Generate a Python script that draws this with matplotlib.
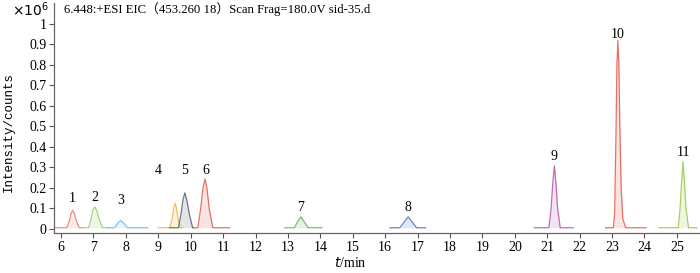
import matplotlib
matplotlib.use("Agg")
import matplotlib.pyplot as plt

# peaks (time in min, intensity in 1e6 counts)
peak_labels = ["1", "2", "3", "4", "5", "6", "7", "8", "9", "10", "11"]
peak_colors = ["#e47a72", "#9ccc6a", "#72b6e6", "#f2b53a", "#56626a", "#e4584a",
               "#66b44a", "#4a74c2", "#b455a6", "#e4584a", "#98c84a"]
peak_times = [
    [5.82, 6.18, 6.26, 6.31, 6.36, 6.41, 6.47, 6.56, 6.70],
    [6.75, 6.85, 6.93, 6.98, 7.04, 7.10, 7.17, 7.28, 7.45],
    [7.45, 7.65, 7.75, 7.84, 7.93, 8.05, 8.68],
    [9.00, 9.36, 9.43, 9.48, 9.52, 9.56, 9.61, 9.68, 9.75],
    [9.35, 9.62, 9.70, 9.76, 9.82, 9.88, 9.96, 10.06, 10.10],
    [10.10, 10.22, 10.31, 10.38, 10.44, 10.50, 10.57, 10.68, 11.20],
    [12.90, 13.20, 13.30, 13.40, 13.50, 13.62, 14.05],
    [16.15, 16.45, 16.71, 16.97, 17.25],
    [20.60, 21.05, 21.12, 21.17, 21.22, 21.27, 21.32, 21.40, 21.80],
    [22.80, 23.04, 23.08, 23.12, 23.15, 23.18, 23.21, 23.24, 23.28, 23.33, 23.42, 24.05],
    [24.45, 25.04, 25.10, 25.15, 25.19, 25.23, 25.28, 25.36, 25.62],
]
peak_heights = [
    [0.005, 0.005, 0.04, 0.075, 0.09, 0.075, 0.04, 0.005, 0.005],
    [0.005, 0.005, 0.05, 0.09, 0.107, 0.09, 0.05, 0.005, 0.005],
    [0.005, 0.005, 0.028, 0.04, 0.028, 0.005, 0.005],
    [0.005, 0.005, 0.05, 0.10, 0.125, 0.10, 0.05, 0.005, 0.005],
    [0.005, 0.005, 0.07, 0.14, 0.175, 0.14, 0.07, 0.005, 0.005],
    [0.005, 0.005, 0.10, 0.20, 0.243, 0.20, 0.10, 0.005, 0.005],
    [0.005, 0.005, 0.035, 0.058, 0.035, 0.005, 0.005],
    [0.005, 0.005, 0.058, 0.005, 0.005],
    [0.005, 0.005, 0.10, 0.22, 0.306, 0.22, 0.10, 0.005, 0.005],
    [0.005, 0.005, 0.08, 0.45, 0.80, 0.917, 0.80, 0.50, 0.20, 0.05, 0.005, 0.005],
    [0.005, 0.005, 0.10, 0.24, 0.327, 0.24, 0.10, 0.005, 0.005],
]
label_x = [6.34, 7.04, 7.85, 9.0, 9.8, 10.46, 13.4, 16.71, 21.2, 23.18, 25.2]
label_y = [0.146, 0.15, 0.136, 0.286, 0.286, 0.286, 0.102, 0.102, 0.35, 0.947, 0.374]

x_ticks = list(range(6, 26))
y_ticks = [0, 0.1, 0.2, 0.3, 0.4, 0.5, 0.6, 0.7, 0.8, 0.9, 1]
y_tick_labels = ["0", "0.1", "0.2", "0.3", "0.4", "0.5", "0.6", "0.7", "0.8", "0.9", "1"]

plt.rcParams['font.family'] = ['Liberation Serif', 'Noto Sans CJK SC', 'DejaVu Sans']

fig = plt.figure(figsize=(7, 2.73), dpi=100)
ax = fig.add_axes([0.077, 0.147, 0.921, 0.842])

for t, h, c in zip(peak_times, peak_heights, peak_colors):
    ax.fill_between(t, 0.005, h, color=c, alpha=0.16, lw=0)
    ax.plot(t, h, color=c, lw=0.9, alpha=0.85)

for lab, lx, ly in zip(peak_labels, label_x, label_y):
    ax.text(lx, ly, lab, ha="center", va="center", fontsize=10)

ax.set_xlim(5.78, 25.67)
ax.set_ylim(-0.02, 1.1)
ax.set_xticks(x_ticks)
ax.set_yticks(y_ticks)
ax.set_yticklabels(y_tick_labels)
ax.tick_params(direction="out", length=3.5, width=0.8, color="#555555", labelsize=10, pad=2)
for s in ["top", "right"]:
    ax.spines[s].set_visible(False)
for s in ["left", "bottom"]:
    ax.spines[s].set_color("#666666")
    ax.spines[s].set_linewidth(0.9)

ax.text(0.015, 0.975, "6.448:+ESI EIC（453.260 18）Scan Frag=180.0V sid-35.d",
        transform=ax.transAxes, ha="left", va="center", fontsize=9.2)
fig.text(0.043, 0.963, r"$\times10^6$", ha="center", va="center", fontsize=10)
fig.text(0.012, 0.515, "Intensity/counts", rotation=90, ha="center", va="center",
         fontsize=9, family=['Liberation Mono', 'DejaVu Sans Mono'])
fig.text(0.501, 0.035, r"$t$/min", ha="center", va="center", fontsize=10)

fig.savefig("out.png", dpi=100)
